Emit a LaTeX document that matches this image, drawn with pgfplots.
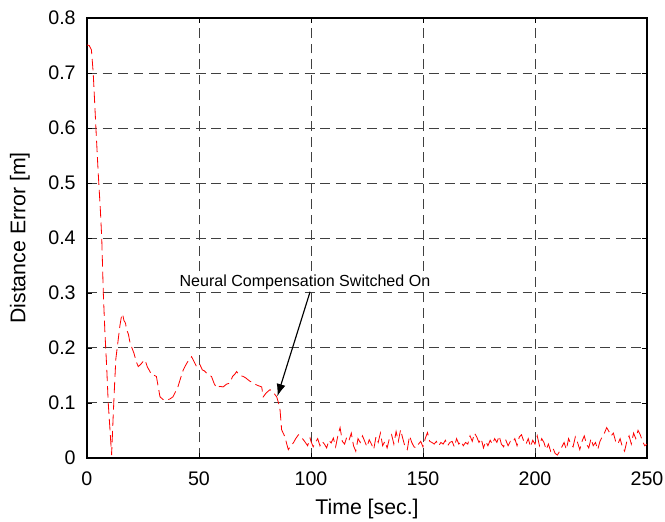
\documentclass[border=0pt]{standalone}
\usepackage{fontspec}
\setmainfont{Liberation Sans}
\usepackage{pgfplots}
\pgfplotsset{compat=1.18}
\usetikzlibrary{arrows.meta}
\begin{document}
\begin{tikzpicture}
\begin{axis}[
  scale only axis,
  width=342pt, height=268.6pt,
  xmin=0, xmax=250, ymin=0, ymax=0.8,
  xtick={0,50,...,250},
  ytick={0,0.1,...,0.8},
  yticklabel style={/pgf/number format/fixed, /pgf/number format/precision=1, inner sep=0pt},
  xticklabel style={inner sep=0pt},
  /pgf/number format/assume math mode=true,
  ticklabel style={font=\fontsize{12}{14}\selectfont},
  xticklabel shift=8.5pt,
  yticklabel shift=6.7pt,
  every axis y label/.style={at={(axis description cs:0,0.5)}, xshift=-41pt, rotate=90, anchor=center, font=\fontsize{13}{15}\selectfont},
  every axis x label/.style={at={(axis description cs:0.5,0)}, yshift=-31.5pt, anchor=center, font=\fontsize{13}{15}\selectfont},
  xlabel={Time [sec.]},
  ylabel={Distance Error [m]},
  grid=major,
  major grid style={black!75, dash pattern=on 6pt off 3.5pt, line width=0.5pt},
  axis line style={black, line width=0.9pt},
  tick align=inside,
  major tick length=3pt,
  tick style={black},
]
\addplot[red, line width=0.5pt, dash pattern=on 7pt off 3pt] coordinates {
(0,0.751) (1,0.75) (2,0.742) (2.8,0.70) (4,0.60) (5,0.52) (6,0.45) (6.6,0.40) (7.3,0.30) (8,0.23) (8.8,0.166) (9.5,0.10) (10.3,0.05) (11,0.005) (11.7,0.075) (12.3,0.13) (12.9,0.18) (13.8,0.21) (14.7,0.24) (15.3,0.255) (15.9,0.262) (16.5,0.25) (17.2,0.245) (17.7,0.233) (18.5,0.225) (19.2,0.21) (19.9,0.202) (21,0.19) (22,0.175) (22.9,0.166) (24,0.17) (25,0.175) (25.9,0.178) (27,0.165) (28,0.158) (28.8,0.151) (30,0.15) (31,0.148) (32,0.125) (32.6,0.111) (34,0.106) (35.6,0.105) (37,0.107) (38.4,0.111) (39.5,0.12) (40.6,0.129) (41.8,0.145) (43,0.16) (44,0.168) (45,0.175) (46,0.18) (46.7,0.184) (47.8,0.175) (48.9,0.166) (49.6,0.17) (50.4,0.17) (51.5,0.16) (52.5,0.158) (53.4,0.154) (54.5,0.15) (55.6,0.148) (56.8,0.135) (57.9,0.127) (59.3,0.13) (60.8,0.129) (62.3,0.134) (63.8,0.136) (65,0.148) (66,0.152) (66.8,0.157) (68,0.15) (69.8,0.148) (71,0.145) (72.5,0.14) (74.2,0.136) (76,0.132) (78,0.129) (78.7,0.111) (80,0.118) (81.7,0.124) (83,0.12) (84.7,0.111) (85.5,0.10) (86.2,0.087) (86.9,0.051) (87.6,0.045) (88.4,0.038) (89.2,0.025) (89.9,0.015) (91,0.022) (92.1,0.027) (93.2,0.035) (94.4,0.042) (95.5,0.038) (96.6,0.033) (97.5,0.028) (98.5,0.022) (99.6,0.036)
(100,0.03) (101,0.02) (102,0.028) (103,0.035) (104,0.022) (105,0.03) (106,0.025) (107,0.018) (108,0.032) (109,0.027) (110,0.036) (111,0.02) (112,0.04) (113,0.055) (114,0.03) (115,0.025) (116,0.038) (117,0.032) (118,0.045) (119,0.022) (120,0.012) (121,0.035) (122,0.028) (123,0.04) (124,0.03) (125,0.02) (126,0.033) (127,0.025) (128,0.015) (129,0.038) (130,0.028) (131,0.045) (132,0.022) (133,0.03) (134,0.018) (135,0.035) (136,0.042) (137,0.025) (138,0.048) (139,0.03) (140,0.051) (141,0.035) (142,0.02) (143,0.015) (144,0.04) (145,0.028) (146,0.02) (147,0.018) (148,0.025) (149,0.03) (150,0.02) (151,0.035) (152,0.046) (153,0.03) (154,0.028) (155,0.025) (156,0.03) (157,0.022) (158,0.028) (159,0.025) (160,0.032) (161,0.022) (162,0.028) (163,0.03) (164,0.02) (165,0.035) (166,0.025) (167,0.03) (168,0.022) (169,0.028) (170,0.025) (171,0.04) (172,0.03) (173,0.045) (174,0.038) (175,0.028) (176,0.035) (177,0.018) (178,0.03) (179,0.022) (180,0.032) (181,0.025) (182,0.035) (183,0.028) (184,0.04) (185,0.025) (186,0.02) (187,0.032) (188,0.022) (189,0.03) (190,0.028) (191,0.035) (192,0.022) (193,0.038) (194,0.042) (195,0.03) (196,0.025) (197,0.035) (198,0.02) (199,0.032) (200,0.025) (201,0.04) (202,0.022) (203,0.035) (204,0.028) (205,0.015) (206,0.025) (207,0.012) (208,0.018) (209,0.008) (210,0.005) (211,0.012) (212,0.02) (213,0.028) (214,0.015) (215,0.035) (216,0.025) (217,0.02) (218,0.038) (219,0.028) (220,0.015) (221,0.03) (222,0.04) (223,0.025) (224,0.018) (225,0.035) (226,0.022) (227,0.028) (228,0.015) (229,0.03) (230,0.038) (231,0.045) (232,0.055) (233,0.048) (234,0.04) (235,0.045) (236,0.03) (237,0.025) (238,0.035) (239,0.02) (240,0.012) (241,0.03) (242,0.04) (243,0.025) (244,0.045) (245,0.035) (246,0.05) (247,0.042) (248,0.03) (249,0.022) (250,0.025)
};
\node[font=\fontsize{9.8}{11}\selectfont, fill=white, inner sep=1pt] at (axis cs:97.3,0.32) {Neural Compensation Switched On};
\draw[black, line width=0.7pt, -{Latex[length=7.5pt,width=5.5pt]}] (axis cs:99.6,0.302) -- (axis cs:85,0.112);
\end{axis}
\pgfresetboundingbox
\path ([shift={(-53.1pt,-39pt)}]current axis.south west) rectangle ([shift={(11pt,11pt)}]current axis.north east);
\end{tikzpicture}
\end{document}
